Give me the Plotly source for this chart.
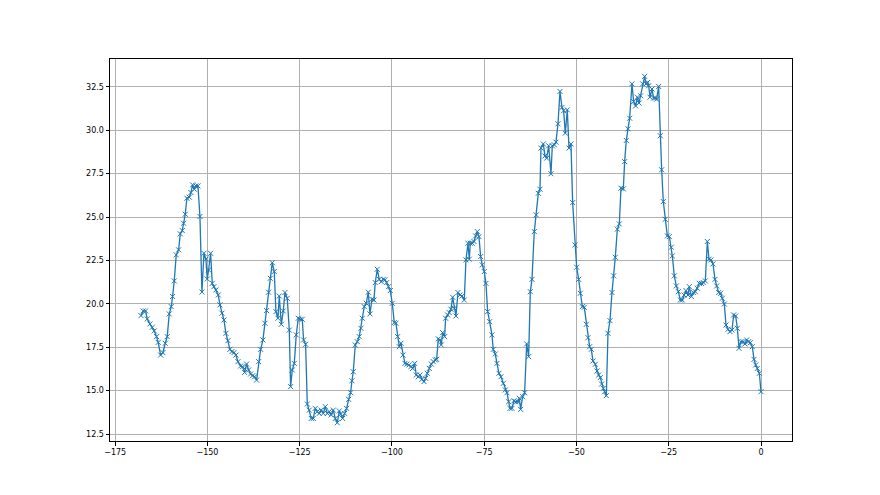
import plotly.graph_objects as go

# hours before now (x) and readings (y)
hours = [
    -168.0, -167.39, -166.76, -166.31, -165.58, -164.95, -164.41, -163.78, -163.33, -162.69,
    -162.06, -161.43, -160.89, -160.35, -159.80, -159.44, -158.99, -158.45, -157.81, -157.36,
    -156.82, -156.46, -156.01, -155.56, -154.92, -154.47, -154.02, -153.57, -153.12, -152.57,
    -152.03, -151.49, -150.95, -150.41, -150.05, -149.68, -149.14, -148.69, -148.24, -147.70,
    -147.06, -146.61, -146.07, -145.53, -144.99, -144.44, -143.90, -143.36, -142.82, -142.28,
    -141.73, -141.01, -140.47, -139.93, -139.39, -138.84, -138.30, -137.76, -137.22, -136.68,
    -136.13, -135.59, -134.96, -134.42, -133.97, -133.42, -132.97, -132.43, -131.89, -131.44,
    -130.89, -130.53, -129.99, -129.45, -129.00, -128.37, -127.82, -127.46, -127.01, -126.47,
    -125.93, -125.38, -124.84, -124.30, -123.94, -123.40, -122.94, -122.40, -121.86, -121.32,
    -120.78, -120.23, -119.69, -119.15, -118.61, -118.07, -117.52, -116.98, -116.44, -115.90,
    -115.35, -114.81, -114.27, -113.91, -113.37, -112.83, -112.28, -111.74, -111.20, -110.84,
    -110.48, -109.94, -109.39, -108.85, -108.40, -108.04, -107.50, -106.96, -106.41, -105.96,
    -105.42, -104.88, -104.52, -103.98, -103.43, -102.89, -102.35, -101.90, -101.45, -100.91,
    -100.45, -99.91, -99.37, -98.92, -98.46, -98.01, -97.56, -97.02, -96.48, -95.93,
    -95.39, -94.85, -94.40, -93.86, -93.41, -92.86, -92.41, -91.87, -91.33, -90.88,
    -90.42, -89.88, -89.34, -88.80, -88.26, -87.89, -87.44, -86.99, -86.63, -86.27,
    -85.73, -85.46, -84.91, -84.46, -84.01, -83.56, -83.11, -82.66, -82.11, -81.57,
    -81.03, -80.40, -79.95, -79.40, -79.04, -78.77, -78.23, -77.78, -77.33, -76.87,
    -76.42, -75.97, -75.52, -74.98, -74.53, -74.07, -73.53, -72.90, -72.54, -72.00,
    -71.54, -71.00, -70.46, -69.83, -69.29, -68.83, -68.38, -68.02, -67.48, -66.94,
    -66.40, -65.85, -65.49, -65.13, -64.59, -64.05, -63.50, -62.96, -62.51, -62.06,
    -61.43, -60.89, -60.34, -59.89, -59.62, -58.99, -58.54, -58.08, -57.54, -56.91,
    -56.55, -56.01, -55.56, -55.01, -54.47, -53.93, -53.48, -53.03, -52.49, -52.03,
    -51.49, -51.04, -50.41, -49.95, -49.41, -48.96, -48.42, -47.88, -47.34, -46.88,
    -46.43, -45.98, -45.53, -44.90, -44.44, -43.99, -43.54, -43.18, -42.73, -42.37,
    -41.91, -41.46, -40.92, -40.38, -39.93, -39.48, -38.93, -38.39, -37.94, -37.31,
    -36.95, -36.50, -36.04, -35.59, -34.96, -34.51, -33.97, -33.51, -33.06, -32.61,
    -32.07, -31.53, -31.17, -30.71, -30.44, -30.08, -29.54, -29.09, -28.64, -28.27,
    -27.73, -27.28, -26.92, -26.47, -25.93, -25.38, -24.84, -24.30, -24.03, -23.49,
    -22.95, -22.40, -21.86, -21.32, -20.87, -20.33, -19.78, -19.42, -18.88, -18.34,
    -17.80, -17.25, -16.71, -16.17, -15.63, -15.09, -14.54, -14.09, -13.55, -13.01,
    -12.47, -12.01, -11.47, -10.93, -10.48, -9.94, -9.49, -8.94, -8.40, -7.86,
    -7.41, -6.86, -6.41, -5.96, -5.42, -4.88, -4.34, -3.88, -3.34, -2.89,
    -2.35, -1.90, -1.44, -0.99, -0.45, 0.0,
]

values = [
    19.32, 19.59, 19.59, 19.13, 18.84, 18.65, 18.44, 18.11, 17.78, 17.05,
    17.19, 17.73, 18.11, 19.42, 19.84, 20.42, 21.32, 22.82, 23.11, 24.03,
    24.22, 24.64, 25.16, 26.08, 26.14, 26.41, 26.85, 26.60, 26.79, 26.79,
    25.03, 20.68, 22.91, 22.57, 21.43, 21.95, 22.91, 21.18, 20.99, 20.80,
    20.51, 19.94, 19.46, 19.07, 18.30, 17.88, 17.38, 17.25, 17.19, 17.05,
    16.67, 16.42, 16.38, 16.05, 16.53, 16.19, 15.96, 15.86, 15.80, 15.61,
    16.67, 17.38, 17.92, 18.88, 19.61, 20.67, 21.47, 22.37, 21.86, 19.55,
    19.17, 20.45, 18.82, 19.59, 20.65, 20.32, 18.49, 15.23, 16.19, 16.57,
    18.21, 19.17, 19.11, 19.11, 17.92, 17.67, 14.23, 13.88, 13.40, 13.40,
    13.98, 13.79, 13.69, 13.88, 13.69, 14.08, 13.69, 13.79, 13.60, 13.88,
    13.40, 13.15, 13.83, 13.65, 13.40, 13.69, 13.98, 14.50, 14.88, 15.57,
    16.09, 17.63, 17.82, 18.11, 18.59, 19.17, 19.84, 20.03, 20.67, 19.42,
    20.26, 20.22, 21.22, 21.99, 21.41, 21.28, 21.41, 21.38, 21.22, 20.99,
    20.76, 20.03, 18.92, 18.88, 18.11, 17.53, 17.73, 17.05, 16.57, 16.53,
    16.48, 16.38, 16.28, 16.57, 15.90, 15.80, 15.90, 15.65, 15.52, 15.71,
    16.00, 16.28, 16.53, 16.67, 16.77, 16.80, 17.98, 17.92, 17.63, 18.34,
    18.11, 19.17, 19.36, 19.49, 19.69, 20.38, 19.74, 19.30, 20.65, 20.51,
    20.45, 20.22, 22.53, 23.49, 22.57, 23.49, 23.49, 23.59, 23.91, 24.16,
    23.87, 22.72, 22.24, 21.86, 21.18, 19.55, 18.97, 18.21, 17.38, 17.11,
    16.57, 16.00, 15.80, 15.42, 15.04, 14.88, 14.36, 13.98, 13.98, 14.42,
    14.36, 14.36, 14.56, 13.92, 14.65, 14.88, 17.69, 16.96, 20.70, 21.41,
    24.16, 25.12, 26.37, 26.60, 28.97, 29.21, 28.52, 28.39, 29.10, 27.49,
    29.10, 29.16, 29.31, 30.37, 32.23, 31.31, 31.12, 29.83, 31.17, 28.97,
    29.21, 25.83, 23.39, 22.11, 21.41, 20.61, 19.84, 19.80, 18.82, 18.05,
    17.53, 17.38, 16.71, 16.52, 16.13, 15.90, 15.75, 15.38, 15.13, 14.94,
    14.71, 18.30, 19.03, 20.65, 21.61, 22.68, 24.30, 24.60, 26.66, 26.62,
    28.19, 29.41, 30.08, 30.69, 32.67, 31.65, 31.40, 31.90, 31.56, 31.98,
    32.67, 33.10, 32.67, 32.75, 32.56, 31.90, 32.37, 31.85, 31.85, 31.79,
    32.52, 29.68, 27.72, 25.89, 24.87, 23.91, 23.87, 23.26, 22.76, 21.61,
    21.03, 20.70, 20.22, 20.22, 20.51, 20.76, 20.51, 20.99, 20.42, 20.65,
    20.70, 20.90, 21.18, 21.18, 21.22, 21.32, 23.59, 22.57, 22.53, 22.30,
    21.41, 21.03, 20.65, 20.61, 20.32, 19.99, 18.78, 18.53, 18.40, 18.49,
    19.36, 19.30, 18.59, 17.44, 17.82, 17.82, 17.69, 17.92, 17.82, 17.76,
    17.53, 16.80, 16.48, 16.28, 16.00, 14.94,
]

x_ticks = [-175, -150, -125, -100, -75, -50, -25, 0]
y_ticks = [12.5, 15.0, 17.5, 20.0, 22.5, 25.0, 27.5, 30.0, 32.5]

fig = go.Figure()
fig.add_trace(
    go.Scatter(
        x=hours,
        y=values,
        mode="lines+markers",
        line=dict(color="#1f77b4", width=1.3),
        marker=dict(symbol="x-thin", size=5, color="#1f77b4",
                    line=dict(width=1, color="#1f77b4")),
        showlegend=False,
    )
)

axis_style = dict(
    showgrid=True,
    gridcolor="#b0b0b0",
    gridwidth=0.8,
    zeroline=False,
    showline=True,
    mirror=True,
    linecolor="black",
    linewidth=1,
    ticks="outside",
    ticklen=3.5,
    tickcolor="black",
    tickfont=dict(family="DejaVu Sans", size=8, color="black"),
)

fig.update_xaxes(range=[-176.4, 8.4], tickvals=x_ticks, **axis_style)
fig.update_yaxes(range=[12.1, 34.1], tickvals=y_ticks, tickformat=".1f", **axis_style)

# page body adds an 8px offset, so the figure is sized to fit inside the window
fig.update_layout(
    width=872,
    height=487,
    margin=dict(l=102, r=88, t=51, b=54),
    paper_bgcolor="white",
    plot_bgcolor="white",
)

fig.write_html("out.html")
